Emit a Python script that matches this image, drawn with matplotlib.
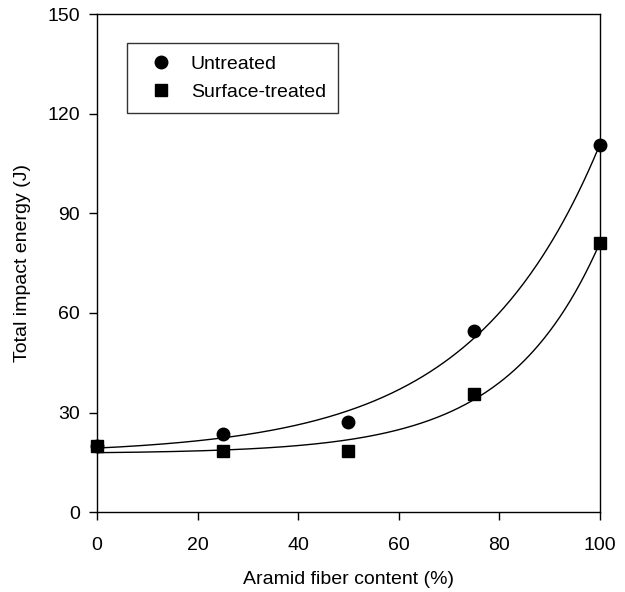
import numpy as np
import matplotlib
matplotlib.use("Agg")
import matplotlib.pyplot as plt

plt.rcParams['font.family'] = ['Liberation Sans', 'DejaVu Sans']

fiber = [0, 25, 50, 75, 100]
untreated = [20.0, 23.5, 27.0, 54.5, 110.5]
surface_treated = [20.0, 18.5, 18.5, 35.5, 81.0]
xticks = [0, 20, 40, 60, 80, 100]
yticks = [0, 30, 60, 90, 120, 150]


def exp_fit(x, y):
    """Least-squares fit y = y0 + a*exp(b*x), grid search over b."""
    x = np.asarray(x, float)
    y = np.asarray(y, float)
    best = None
    for b in np.linspace(0.005, 0.2, 4000):
        A = np.column_stack([np.ones_like(x), np.exp(b * x)])
        c, *_ = np.linalg.lstsq(A, y, rcond=None)
        r = np.sum((A @ c - y) ** 2)
        if best is None or r < best[0]:
            best = (r, c[0], c[1], b)
    _, y0, a, b = best
    return lambda t: y0 + a * np.exp(b * t)


fig = plt.figure(figsize=(6.25, 5.92), dpi=100)
ax = fig.add_axes([0.155, 0.135, 0.805, 0.841])

xs = np.linspace(0, 100, 300)
for y, marker, ms, label in [(untreated, 'o', 9, 'Untreated'),
                             (surface_treated, 's', 8, 'Surface-treated')]:
    f = exp_fit(fiber, y)
    ax.plot(xs, f(xs), color='black', lw=1.0)
    ax.plot(fiber, y, linestyle='none', marker=marker, ms=ms, color='black',
            label=label, clip_on=False, zorder=5)

ax.set_xlim(0, 100)
ax.set_ylim(0, 150)
ax.set_xticks(xticks)
ax.set_yticks(yticks)
ax.tick_params(axis='both', direction='out', length=6, width=1, labelsize=14,
               top=False, right=False)
ax.tick_params(axis='x', pad=12)
ax.tick_params(axis='y', pad=6)
for s in ax.spines.values():
    s.set_linewidth(1.0)
ax.set_xlabel('Aramid fiber content (%)', fontsize=14, labelpad=12)
ax.set_ylabel('Total impact energy (J)', fontsize=14, labelpad=12)

leg = ax.legend(loc='upper left', bbox_to_anchor=(0.06, 0.942), fontsize=14,
                frameon=True, fancybox=False, edgecolor='black',
                borderpad=0.62, handletextpad=0.45, labelspacing=0.55,
                handlelength=2.2, borderaxespad=0)
leg.get_frame().set_linewidth(1.0)

fig.savefig('out.png', dpi=100)
